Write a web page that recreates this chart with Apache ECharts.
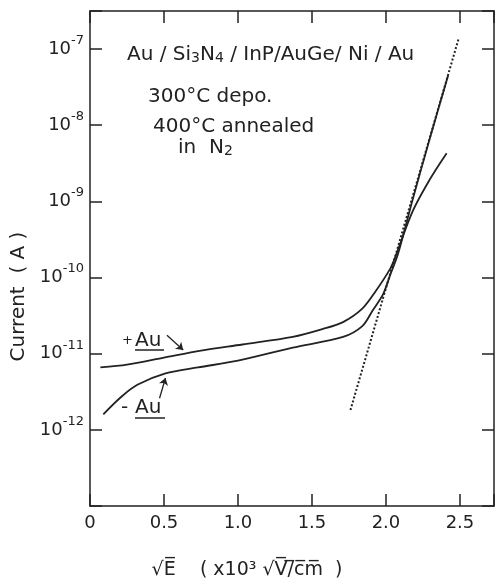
<!DOCTYPE html>
<html>
<head>
<meta charset="utf-8">
<script src="https://cdn.jsdelivr.net/npm/echarts@6/dist/echarts.min.js"></script>
<style>
  html, body { margin: 0; padding: 0; background: #fff; }
  #chart { width: 497px; height: 587px; }
</style>
</head>
<body>
<div id="chart"></div>
<script>
// +Au curve (upper one at low field)
var xPlus = [0.07, 0.25, 0.5, 0.75, 1.03, 1.37, 1.57, 1.71, 1.84, 1.93, 2.03, 2.06, 2.18, 2.30, 2.41];
var iPlus = [6.6e-12, 7.2e-12, 8.9e-12, 1.1e-11, 1.32e-11, 1.66e-11, 2.1e-11, 2.6e-11, 3.9e-11, 6.6e-11, 1.32e-10, 1.8e-10, 7.4e-10, 2.0e-9, 4.3e-9];
// -Au curve
var xMinus = [0.09, 0.21, 0.32, 0.51, 0.73, 1.0, 1.37, 1.71, 1.84, 1.91, 1.98, 2.03, 2.08, 2.18, 2.30, 2.42];
var iMinus = [1.6e-12, 2.7e-12, 3.9e-12, 5.5e-12, 6.6e-12, 8.1e-12, 1.2e-11, 1.66e-11, 2.3e-11, 3.7e-11, 6.0e-11, 1.1e-10, 2.0e-10, 1.05e-9, 7.1e-9, 4.5e-8];
// dotted straight-line fit
var xFit = [1.76, 2.49];
var iFit = [1.82e-12, 1.35e-7];

var xTicks = [0, 0.5, 1.0, 1.5, 2.0, 2.5];
var yExps = [-12, -11, -10, -9, -8, -7];

function zip(a, b) {
  var out = [];
  for (var i = 0; i < a.length; i++) out.push([a[i], b[i]]);
  return out;
}

var chart = echarts.init(document.getElementById('chart'));
var font = 'DejaVu Sans';
var ink = '#222';

var xBase = {
  type: 'value', min: 0, max: 2.73, interval: 0.5,
  axisLine: { onZero: false, lineStyle: { color: ink, width: 1.5 } },
  axisTick: { inside: true, length: 12, lineStyle: { color: ink, width: 1.5 } },
  splitLine: { show: false }
};
var yBase = {
  type: 'log', logBase: 10, min: 1e-13, max: 3.16e-7,
  axisLine: { show: true, onZero: false, lineStyle: { color: ink, width: 1.5 } },
  axisTick: { show: true, inside: true, length: 12, lineStyle: { color: ink, width: 1.5 } },
  minorTick: { show: false },
  splitLine: { show: false }
};

var rich = {
  n: { fontFamily: font, fontSize: 20, fill: ink, verticalAlign: 'bottom', lineHeight: 26 },
  s: { fontFamily: font, fontSize: 14, fill: ink, verticalAlign: 'bottom', lineHeight: 19 }
};

var option = {
  backgroundColor: '#fff',
  animation: false,
  grid: { left: 90, right: 3, top: 11, bottom: 81 },
  xAxis: [
    Object.assign({}, xBase, {
      position: 'bottom',
      name: '√E̅    ( x10³ √V̅/̅c̅m̅  )',
      nameLocation: 'middle',
      nameGap: 55,
      nameTextStyle: { fontFamily: font, fontSize: 19, color: ink, padding: [0, 90, 0, 0] },
      axisLabel: {
        margin: 8, fontFamily: font, fontSize: 18, color: ink,
        formatter: function (v) {
          for (var i = 0; i < xTicks.length; i++) {
            if (Math.abs(v - xTicks[i]) < 1e-6) return v === 0 ? '0' : v.toFixed(1);
          }
          return '';
        }
      }
    }),
    Object.assign({}, xBase, { position: 'top', axisLabel: { show: false } })
  ],
  yAxis: [
    Object.assign({}, yBase, {
      position: 'left',
      name: 'Current  ( A )',
      nameLocation: 'middle',
      nameGap: 52,
      nameTextStyle: { fontFamily: font, fontSize: 20, color: ink, padding: [0, 76, 0, 0] },
      axisLabel: {
        margin: 6, color: ink, padding: [0, 0, 6, 0],
        formatter: function (v) {
          var e = Math.round(Math.log10(v));
          if (Math.abs(Math.log10(v) - e) > 1e-6 || yExps.indexOf(e) < 0) return '';
          return '{b|10}{s|-' + (-e) + '}';
        },
        rich: {
          b: { fontFamily: font, fontSize: 18, color: ink, verticalAlign: 'bottom', lineHeight: 24 },
          s: { fontFamily: font, fontSize: 13, color: ink, verticalAlign: 'top', lineHeight: 12 }
        }
      }
    }),
    Object.assign({}, yBase, { position: 'right', axisLabel: { show: false } })
  ],
  series: [
    {
      name: '+Au', type: 'line', data: zip(xPlus, iPlus),
      smooth: 0.3, showSymbol: false,
      lineStyle: { color: ink, width: 1.8 },
      markLine: {
        silent: true, symbol: ['none', 'arrow'], symbolSize: 7,
        label: { show: false },
        lineStyle: { color: ink, width: 1.3, type: 'solid', curveness: -0.25 },
        data: [[{ coord: [0.52, 1.75e-11] }, { coord: [0.63, 1.12e-11] }]]
      }
    },
    {
      name: '-Au', type: 'line', data: zip(xMinus, iMinus),
      smooth: 0.3, showSymbol: false,
      lineStyle: { color: ink, width: 1.8 },
      markLine: {
        silent: true, symbol: ['none', 'arrow'], symbolSize: 7,
        label: { show: false },
        lineStyle: { color: ink, width: 1.3, type: 'solid', curveness: 0 },
        data: [[{ coord: [0.47, 2.6e-12] }, { coord: [0.51, 4.8e-12] }]]
      }
    },
    {
      name: 'fit', type: 'line', data: zip(xFit, iFit),
      showSymbol: false,
      lineStyle: { color: ink, width: 2, type: 'dotted' }
    }
  ],
  graphic: [
    {
      type: 'text', left: 127, top: 45,
      style: { text: '{n|Au / Si}{s|3}{n|N}{s|4}{n| / InP/AuGe/ Ni / Au}', rich: rich }
    },
    { type: 'text', left: 148, top: 87, style: { text: '300°C depo.', fontFamily: font, fontSize: 20, fill: ink } },
    { type: 'text', left: 153, top: 117, style: { text: '400°C annealed', fontFamily: font, fontSize: 20, fill: ink } },
    { type: 'text', left: 178, top: 138, style: { text: '{n|in  N}{s|2}', rich: rich } },
    { type: 'text', left: 122, top: 334, style: { text: '+', fontFamily: font, fontSize: 13, fill: ink } },
    { type: 'text', left: 135, top: 331, style: { text: 'Au', fontFamily: font, fontSize: 20, fill: ink } },
    { type: 'line', shape: { x1: 135, y1: 350, x2: 164, y2: 350 }, style: { stroke: ink, lineWidth: 1.5 } },
    { type: 'text', left: 121, top: 398, style: { text: '-', fontFamily: font, fontSize: 20, fill: ink } },
    { type: 'text', left: 135, top: 398, style: { text: 'Au', fontFamily: font, fontSize: 20, fill: ink } },
    { type: 'line', shape: { x1: 135, y1: 418, x2: 165, y2: 418 }, style: { stroke: ink, lineWidth: 1.5 } }
  ]
};
chart.setOption(option);
</script>
</body>
</html>
